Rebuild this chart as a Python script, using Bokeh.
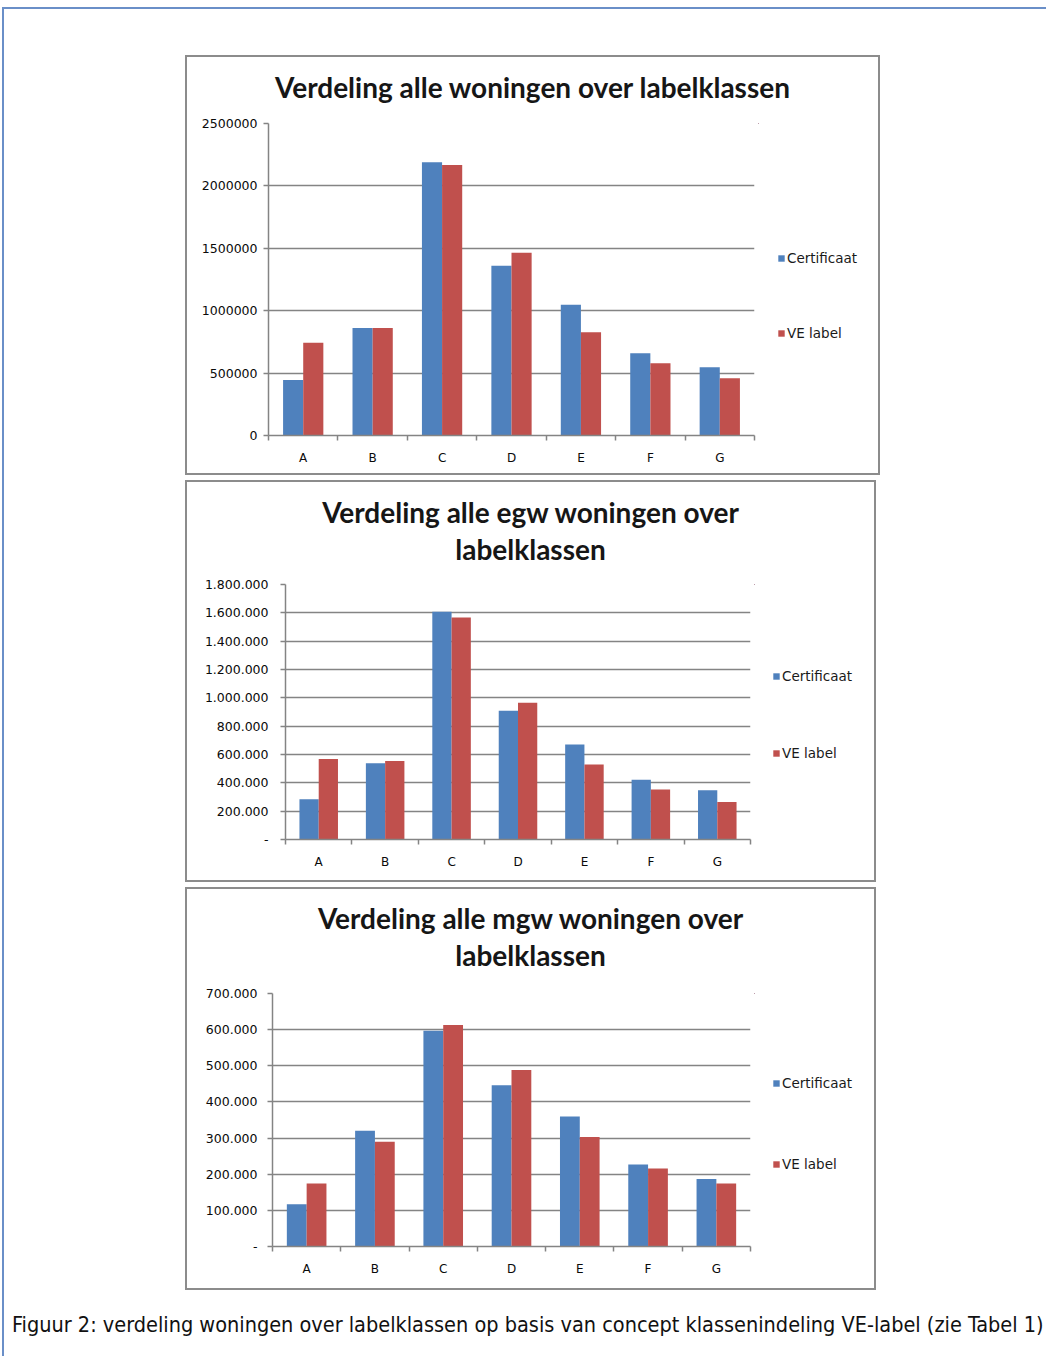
from bokeh.plotting import figure
from bokeh.models import (FixedTicker, Legend, LegendItem, Spacer, Div,
                          ColumnDataSource, Range1d)
from bokeh.layouts import column, row
from bokeh.embed import file_html
from bokeh.resources import INLINE

# ---------------- data ----------------
categories = ["A", "B", "C", "D", "E", "F", "G"]
series_names = ["Certificaat", "VE label"]

alle_cert = [444000, 862000, 2189000, 1361000, 1047000, 659000, 546000]
alle_ve = [744000, 862000, 2167000, 1465000, 828000, 579000, 458000]

egw_cert = [285000, 539000, 1607000, 908000, 671000, 421000, 348000]
egw_ve = [569000, 555000, 1567000, 965000, 529000, 353000, 264000]

mgw_cert = [117000, 320000, 597000, 446000, 360000, 227000, 187000]
mgw_ve = [174000, 290000, 613000, 488000, 303000, 216000, 174000]

alle_ticks = [0, 500000, 1000000, 1500000, 2000000, 2500000]
alle_tick_labels = ["0", "500000", "1000000", "1500000", "2000000", "2500000"]

egw_ticks = [0, 200000, 400000, 600000, 800000, 1000000, 1200000, 1400000, 1600000, 1800000]
egw_tick_labels = ["-", "200.000", "400.000", "600.000", "800.000", "1.000.000",
                   "1.200.000", "1.400.000", "1.600.000", "1.800.000"]

mgw_ticks = [0, 100000, 200000, 300000, 400000, 500000, 600000, 700000]
mgw_tick_labels = ["-", "100.000", "200.000", "300.000", "400.000", "500.000",
                   "600.000", "700.000"]

alle_title = ["Verdeling alle woningen over labelklassen"]
egw_title = ["Verdeling alle egw woningen over", "labelklassen"]
mgw_title = ["Verdeling alle mgw woningen over", "labelklassen"]

caption_text = ("Figuur 2: verdeling woningen over labelklassen op basis van "
                "concept klassenindeling VE-label (zie Tabel 1)")

# ---------------- style ----------------
BLUE = "#4f81bd"
RED = "#c0504d"
GRID = "#848484"
PANEL_BORDER = "2px solid #8c8c8c"
FRAME_BLUE = "2px solid #6a8fc8"
TICK_FONT = "DejaVu Sans"
BAR_W = 0.29
RIGHT_PAD = 4


def make_chart(cert, ve, ticks, tick_labels, g):
    cw = g["l"] + g["fw"] + RIGHT_PAD
    ch = g["t"] + g["fh"] + g["b"]
    p = figure(width=cw, height=ch, output_backend="svg",
               toolbar_location=None,
               x_range=Range1d(-0.5, len(categories) - 0.5),
               y_range=Range1d(0, ticks[-1]),
               min_border_left=g["l"], min_border_right=RIGHT_PAD,
               min_border_top=g["t"], min_border_bottom=g["b"],
               margin=0)
    p.outline_line_color = None
    p.background_fill_color = "white"
    p.border_fill_color = "white"

    idx = list(range(len(categories)))
    src = ColumnDataSource(dict(
        xc=[i - BAR_W / 2 for i in idx],
        xv=[i + BAR_W / 2 for i in idx],
        cert=cert, ve=ve))
    p.vbar(x="xc", top="cert", bottom=0, width=BAR_W, source=src,
           fill_color=BLUE, line_color=None)
    p.vbar(x="xv", top="ve", bottom=0, width=BAR_W, source=src,
           fill_color=RED, line_color=None)

    ya = p.yaxis[0]
    ya.ticker = FixedTicker(ticks=ticks, minor_ticks=[])
    ya.major_label_overrides = {t: lab for t, lab in zip(ticks, tick_labels)}
    ya.axis_line_color = GRID
    ya.axis_line_width = 1.5
    ya.major_tick_line_color = GRID
    ya.major_tick_line_width = 1.5
    ya.major_tick_in = 0
    ya.major_tick_out = 5
    ya.minor_tick_line_color = None
    ya.major_label_standoff = g["ystand"]
    ya.major_label_text_font = TICK_FONT
    ya.major_label_text_font_size = "12.5px"
    ya.major_label_text_color = "#0a0a0a"

    xa = p.xaxis[0]
    xa.ticker = FixedTicker(ticks=idx,
                            minor_ticks=[i - 0.5 for i in range(len(categories) + 1)])
    xa.major_label_overrides = {i: c for i, c in zip(idx, categories)}
    xa.axis_line_color = GRID
    xa.axis_line_width = 1.5
    xa.major_tick_line_color = None
    xa.major_tick_in = 0
    xa.major_tick_out = 0
    xa.minor_tick_line_color = GRID
    xa.minor_tick_line_width = 1.5
    xa.minor_tick_in = 0
    xa.minor_tick_out = 5
    xa.major_label_standoff = g["xstand"]
    xa.major_label_text_font = TICK_FONT
    xa.major_label_text_font_size = "12px"
    xa.major_label_text_color = "#0a0a0a"

    p.xgrid.grid_line_color = None
    p.ygrid.grid_line_color = GRID
    p.ygrid.grid_line_width = 1.5
    p.ygrid.ticker = FixedTicker(ticks=ticks)

    # legend lives in its own small figure to the right of the chart
    lw = g["inner_w"] - cw
    lp = figure(width=lw, height=ch, output_backend="svg", toolbar_location=None,
                x_range=Range1d(100, 101), y_range=Range1d(-10, -9),
                x_axis_location=None, y_axis_location=None,
                min_border=0, margin=0)
    lp.outline_line_color = None
    lp.grid.grid_line_color = None
    lp.border_fill_color = "white"
    lp.background_fill_color = "white"
    l1 = lp.vbar(x="xc", top="cert", bottom=0, width=BAR_W, source=src,
                 fill_color=BLUE, line_color=None)
    l2 = lp.vbar(x="xv", top="ve", bottom=0, width=BAR_W, source=src,
                 fill_color=RED, line_color=None)
    legend = Legend(items=[LegendItem(label=series_names[0], renderers=[l1]),
                           LegendItem(label=series_names[1], renderers=[l2])],
                    location=g["leg_loc"], orientation="vertical",
                    spacing=g["leg_sp"], padding=0, margin=0,
                    border_line_color=None, background_fill_alpha=0,
                    glyph_width=8, glyph_height=8, label_height=16,
                    label_standoff=2, label_text_font=TICK_FONT,
                    label_text_font_size="13.5px", label_text_color="#1a1a1a")
    lp.add_layout(legend)
    return row(p, lp, margin=0)


def title_div(lines, width, height, pad_top, line_h, size):
    html = ('<div style="width:%dpx;text-align:center;padding-top:%spx;'
            'line-height:%dpx;font-family:Lato;font-weight:bold;font-size:%s;'
            'color:#161616;white-space:nowrap">%s</div>'
            % (width, pad_top, line_h, size, "<br>".join(lines)))
    return Div(text=html, width=width, height=height, margin=0)


def panel(title_lines, cert, ve, ticks, tick_labels, g):
    inner_w = g["inner_w"]
    inner_h = g["t"] + g["fh"] + g["b"]
    t = title_div(title_lines, inner_w, g["div_h"], g["pad"], g["lh"], g["title_size"])
    c = make_chart(cert, ve, ticks, tick_labels, g)
    return column(t, c, width=inner_w + 4, height=g["div_h"] + inner_h + 4,
                  margin=0, styles={"border": PANEL_BORDER, "background": "white"})


g1 = dict(inner_w=691, div_h=52, pad=15, lh=30, title_size="28px",
          fw=486, fh=312, l=81, t=14, b=38, ystand=6, xstand=10,
          leg_loc=(19, 94), leg_sp=59)
g2 = dict(inner_w=687, div_h=88, pad=11.5, lh=37, title_size="28px",
          fw=465, fh=255, l=98, t=14, b=41, ystand=12, xstand=10,
          leg_loc=(18, 78), leg_sp=61)
g3 = dict(inner_w=687, div_h=90, pad=10.5, lh=37, title_size="28px",
          fw=478, fh=253, l=85, t=14, b=42, ystand=10, xstand=10,
          leg_loc=(18, 74), leg_sp=65)

pan1 = panel(alle_title, alle_cert, alle_ve, alle_ticks, alle_tick_labels, g1)
pan2 = panel(egw_title, egw_cert, egw_ve, egw_ticks, egw_tick_labels, g2)
pan3 = panel(mgw_title, mgw_cert, mgw_ve, mgw_ticks, mgw_tick_labels, g3)

caption = Div(text=('<div style="padding-left:8px;line-height:30px;'
                    'font-family:\'DejaVu Sans Condensed\',\'DejaVu Sans\';'
                    'font-stretch:condensed;font-size:21.5px;color:#111111;'
                    'white-space:nowrap">%s</div>' % caption_text),
              width=1040, height=30, margin=0,
              styles={"overflow": "hidden"})

outer = column(
    Spacer(height=46, width=10, margin=0),
    row(Spacer(width=181, height=10, margin=0), pan1, margin=0),
    Spacer(height=5, width=10, margin=0),
    row(Spacer(width=181, height=10, margin=0), pan2, margin=0),
    Spacer(height=5, width=10, margin=0),
    row(Spacer(width=181, height=10, margin=0), pan3, margin=0),
    Spacer(height=20, width=10, margin=0),
    caption,
    width=1044, height=1349, margin=0,
    styles={"border-top": FRAME_BLUE, "border-left": FRAME_BLUE},
)

page = column(Spacer(height=7, width=10, margin=0),
              row(Spacer(width=2, height=10, margin=0), outer, margin=0),
              margin=0)

open("out.html", "w").write(file_html(page, INLINE))
